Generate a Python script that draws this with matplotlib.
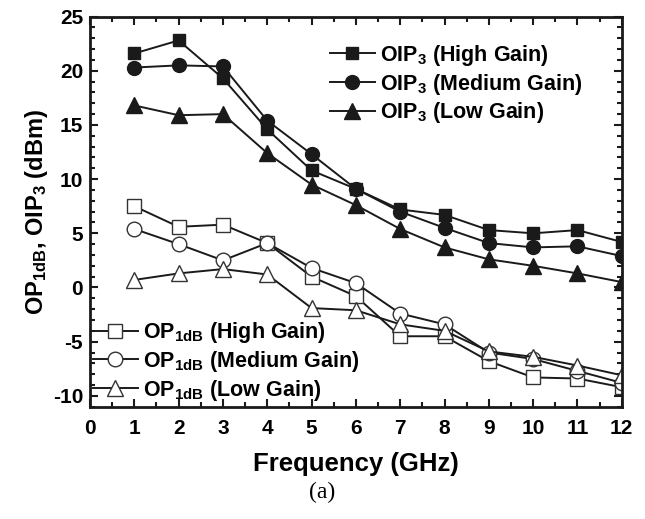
"""OIP3 / OP1dB vs frequency for three gain modes."""
import matplotlib
matplotlib.use("Agg")
import matplotlib.pyplot as plt
from matplotlib.ticker import MultipleLocator

# --- data ---
freq = [1, 2, 3, 4, 5, 6, 7, 8, 9, 10, 11, 12]

oip3_high = [21.6, 22.8, 19.3, 14.6, 10.8, 9.1, 7.2, 6.7, 5.3, 5.0, 5.3, 4.2]
oip3_med = [20.3, 20.5, 20.4, 15.4, 12.3, 9.1, 7.0, 5.5, 4.1, 3.7, 3.8, 2.9]
oip3_low = [16.8, 15.9, 16.0, 12.4, 9.5, 7.6, 5.4, 3.7, 2.6, 2.0, 1.3, 0.5]

op1db_high = [7.5, 5.6, 5.8, 4.1, 1.0, -0.8, -4.5, -4.5, -6.8, -8.3, -8.4, -9.2]
op1db_med = [5.4, 4.0, 2.5, 4.1, 1.8, 0.4, -2.4, -3.4, -6.0, -6.6, -7.7, -8.8]
op1db_low = [0.7, 1.3, 1.7, 1.2, -1.9, -2.1, -3.4, -4.0, -5.9, -6.4, -7.2, -8.1]

plt.rcParams["font.family"] = ["Liberation Sans", "DejaVu Sans"]
plt.rcParams["font.weight"] = "bold"
plt.rcParams["axes.unicode_minus"] = False
plt.rcParams["mathtext.fontset"] = "custom"
plt.rcParams["mathtext.rm"] = "Liberation Sans:bold"
plt.rcParams["mathtext.it"] = "Liberation Sans:bold"
plt.rcParams["mathtext.bf"] = "Liberation Sans:bold"
plt.rcParams["mathtext.default"] = "rm"

fig = plt.figure(figsize=(6.45, 5.19), dpi=100)
ax = fig.add_axes([0.1395, 0.2164, 0.8245, 0.7516])

ink = "#1a1a1a"
lw = 1.4
filled = dict(color=ink, lw=lw, markerfacecolor=ink, markeredgecolor=ink)
hollow = dict(color=ink, lw=lw, markerfacecolor="white",
              markeredgecolor="#333333", markeredgewidth=1.0)

h1, = ax.plot(freq, oip3_high, marker="s", ms=9, label=r"OIP$_3$ (High Gain)", **filled)
h2, = ax.plot(freq, oip3_med, marker="o", ms=10, label=r"OIP$_3$ (Medium Gain)", **filled)
h3, = ax.plot(freq, oip3_low, marker="^", ms=11, label=r"OIP$_3$ (Low Gain)", **filled)
h4, = ax.plot(freq, op1db_high, marker="s", ms=9.5, label=r"OP$_{1dB}$ (High Gain)", **hollow)
h5, = ax.plot(freq, op1db_med, marker="o", ms=10.5, label=r"OP$_{1dB}$ (Medium Gain)", **hollow)
h6, = ax.plot(freq, op1db_low, marker="^", ms=11.5, label=r"OP$_{1dB}$ (Low Gain)", **hollow)

ax.set_xlim(0, 12)
ax.set_ylim(-11, 25)
ax.xaxis.set_major_locator(MultipleLocator(1))
ax.xaxis.set_minor_locator(MultipleLocator(0.5))
ax.yaxis.set_major_locator(MultipleLocator(5))
ax.yaxis.set_minor_locator(MultipleLocator(1))
ax.tick_params(which="both", direction="in", top=True, right=True, width=1.5, color=ink)
ax.tick_params(which="major", length=6, labelsize=15)
ax.tick_params(which="minor", length=3.5)
ax.tick_params(axis="x", pad=9)
ax.tick_params(axis="y", pad=5)
for sp in ax.spines.values():
    sp.set_linewidth(2)
    sp.set_color(ink)

ax.set_xlabel("Frequency (GHz)", fontsize=18.5, fontweight="bold", labelpad=10)
ax.set_ylabel(r"OP$_{1dB}$, OIP$_3$ (dBm)", fontsize=17, fontweight="bold", labelpad=2)

leg_kw = dict(frameon=False, fontsize=15.5, handlelength=2.1, handletextpad=0.25,
              labelspacing=0.18, borderpad=0, borderaxespad=0)
leg1 = ax.legend(handles=[h1, h2, h3], loc="upper left", bbox_to_anchor=(0.451, 0.933), **leg_kw)
ax.add_artist(leg1)
ax.legend(handles=[h4, h5, h6], loc="lower left", bbox_to_anchor=(0.005, 0.01), **leg_kw)

fig.text(0.5, 0.052, "(a)", ha="center", va="center", fontsize=17,
         family="Liberation Serif", fontweight="normal")

fig.savefig("out.png", dpi=100)
